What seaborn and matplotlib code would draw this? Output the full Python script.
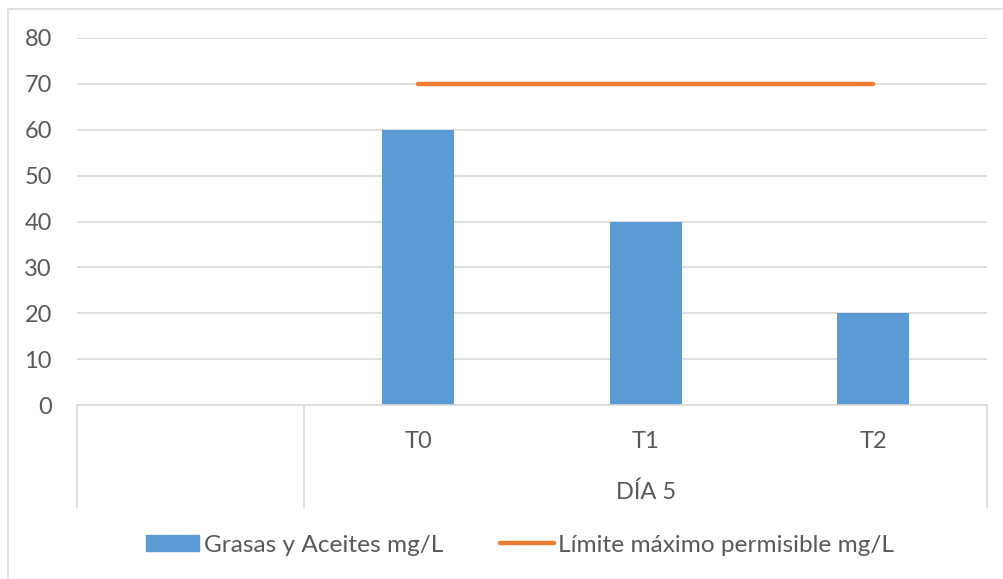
import numpy as np
import pandas as pd
import seaborn as sns
import matplotlib.pyplot as plt
from matplotlib.lines import Line2D
from matplotlib.patches import Patch, Rectangle
from matplotlib.transforms import blended_transform_factory

# Data
categories = ["", "T0", "T1", "T2"]
grasas_aceites = [np.nan, 60, 40, 20]
limite_x = ["T0", "T1", "T2"]
limite_maximo = [70, 70, 70]
group_label = "DÍA 5"
y_ticks = [0, 10, 20, 30, 40, 50, 60, 70, 80]

BLUE = "#5B9BD5"
ORANGE = "#ED7D31"
GRID = "#D9D9D9"
TEXT = "#595959"
FS = 17

sns.set_theme(style="white")
plt.rcParams["font.family"] = ["Lato", "DejaVu Sans"]

W, H = 1004, 579
fig = plt.figure(figsize=(W / 100, H / 100), dpi=100)
ax = fig.add_axes([77 / W, 1 - 405 / H, (987 - 77) / W, (405 - 38) / H])

df = pd.DataFrame({"cat": categories, "val": grasas_aceites})
sns.barplot(data=df, x="cat", y="val", color=BLUE, saturation=1,
            width=0.315, order=categories, ax=ax, linewidth=0)

# limit line, drawn on the same category positions as the bars
lim_df = pd.DataFrame({"pos": [categories.index(c) for c in limite_x],
                       "val": limite_maximo})
sns.lineplot(data=lim_df, x="pos", y="val", color=ORANGE, lw=3.2, ax=ax,
             solid_capstyle="round")

ax.set_xlim(-0.5, len(categories) - 0.5)
ax.set_ylim(0, 80)
ax.set_yticks(y_ticks)
ax.yaxis.grid(True, color=GRID, lw=1.2)
ax.set_axisbelow(True)
for s in ["top", "right", "left"]:
    ax.spines[s].set_visible(False)
ax.spines["bottom"].set_color(GRID)
ax.spines["bottom"].set_linewidth(1.2)
ax.set_xlabel("")
ax.set_ylabel("")
ax.tick_params(axis="both", length=0, labelsize=FS, colors=TEXT)
ax.tick_params(axis="y", pad=18)
ax.tick_params(axis="x", pad=19)

# multi-level axis separators and group label
trans = blended_transform_factory(ax.transData, ax.transAxes)
drop = (507 - 405) / (405 - 38)
for xs in [-0.5, 0.5, len(categories) - 0.5]:
    ax.plot([xs, xs], [0, -drop], transform=trans, color=GRID, lw=1.2,
            clip_on=False)
ax.text(2, -(492 - 405) / (405 - 38), group_label, transform=trans,
        ha="center", va="center", fontsize=FS, color=TEXT)

# chart frame
fig.patches.append(Rectangle((8 / W, -0.1), 1.2, 1 - 9 / H + 0.1,
                             transform=fig.transFigure, fill=False,
                             edgecolor=GRID, lw=1.2))

handles = [Patch(color=BLUE, label="Grasas y Aceites mg/L"),
           Line2D([0], [0], color=ORANGE, lw=3.2,
                  label="Límite máximo permisible mg/L")]
leg = fig.legend(handles=handles, loc="center", ncol=2,
                 bbox_to_anchor=(520 / W, 1 - 545 / H), frameon=False,
                 fontsize=17.6, handlelength=2.2, handleheight=0.64,
                 handletextpad=0.2, columnspacing=2.3)
for t in leg.get_texts():
    t.set_color(TEXT)

fig.savefig("out.png", dpi=100)
